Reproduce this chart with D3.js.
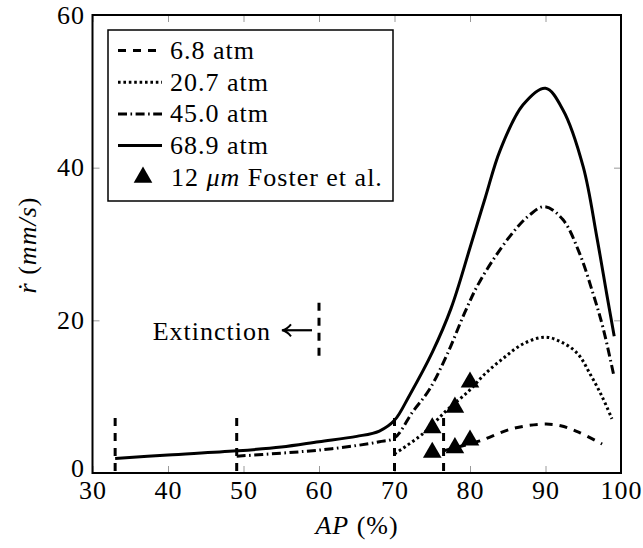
<!DOCTYPE html>
<html>
<head>
<meta charset="utf-8">
<script src="https://cdn.jsdelivr.net/npm/d3@7"></script>
<style>
  body { margin: 0; background: #fff; }
  svg { display: block; }
  text { font-family: "Liberation Serif", "DejaVu Serif", serif; fill: #000; letter-spacing: 1px; }
</style>
</head>
<body>
<svg id="chart" width="643" height="548"></svg>
<script>
// ---------- data ----------
const xTicks = [30, 40, 50, 60, 70, 80, 90, 100];
const yTicks = [0, 20, 40, 60];

const ap_6_8 = [76.5, 78, 81.3, 85.6, 89.7, 92, 94.5, 97.5];
const r_6_8  = [2.9, 3.3, 4.2, 5.8, 6.4, 6.2, 5.3, 3.8];

const ap_20_7 = [70, 73.7, 76.9, 79.9, 82, 84.5, 87, 89.9, 92, 94.2, 96, 97.5, 98.8];
const r_20_7  = [2.5, 5.1, 8.2, 10.8, 13.0, 15.1, 16.9, 17.8, 17.2, 15.7, 12.8, 10.0, 7.1];

const ap_45_0 = [49.1, 55, 60, 65, 68, 70, 72.4, 74.6, 77, 79.3, 81.3, 85.2, 87.9, 89.9, 92.3, 94.5, 96.3, 97.6, 99];
const r_45_0  = [2.2, 2.6, 3.0, 3.6, 4.1, 4.6, 8.0, 10.9, 15.6, 21.0, 25.1, 30.9, 33.8, 34.9, 33.2, 28.8, 23.5, 19.1, 13.0];

const ap_68_9 = [33, 40, 49.1, 55, 60, 65, 68, 70, 72, 75, 77.5, 80, 82, 84, 87, 90, 92.3, 95, 96.8, 98.1, 99.1];
const r_68_9  = [1.9, 2.35, 2.9, 3.4, 4.1, 4.8, 5.5, 6.9, 10.2, 15.8, 21.6, 29.5, 36.0, 42.3, 48.2, 50.4, 47.6, 40.1, 30.9, 23.5, 17.9];

const ap_foster = [75, 75, 78, 78, 80, 80];
const r_foster  = [2.7, 5.9, 3.3, 8.6, 4.3, 11.9];

// extinction limits (vertical dashed markers)
const ext_ap  = [33, 49.1, 70, 76.5];
const ext_top = [7.2, 7.2, 7.2, 7.2];
const extNote_ap = [60];
const extNote_lo = [15.1];
const extNote_hi = [22.3];

const seriesNames = ["6.8 atm", "20.7 atm", "45.0 atm", "68.9 atm"];

// ---------- layout ----------
const FS = 26;
const svg = d3.select("#chart");
const L = 92.5, R = 621, T = 15, B = 473;
const x = d3.scaleLinear().domain([30, 100]).range([L, R]);
const y = d3.scaleLinear().domain([0, 60]).range([B, T]);

const dashes = {
  "6.8 atm": "8,7",
  "20.7 atm": "2.6,2.8",
  "45.0 atm": "9,3.5,1.6,3.5",
  "68.9 atm": null
};

function styleAxis(g, labels) {
  g.select(".domain").remove();
  g.attr("font-family", null).attr("font-size", null);
  g.selectAll(".tick line").attr("stroke", "#9a9a9a").attr("stroke-width", 1);
  if (!labels) g.selectAll(".tick text").remove();
  else g.selectAll(".tick text").attr("font-size", FS);
}
svg.append("g").attr("transform", `translate(0,${B})`)
  .call(d3.axisBottom(x).tickValues(xTicks).tickSizeInner(-7).tickSizeOuter(0).tickPadding(7.5))
  .call(g => styleAxis(g, true));
svg.append("g").attr("transform", `translate(0,${T})`)
  .call(d3.axisTop(x).tickValues(xTicks).tickSizeInner(-7).tickSizeOuter(0))
  .call(g => styleAxis(g, false));
svg.append("g").attr("transform", `translate(${L},0)`)
  .call(d3.axisLeft(y).tickValues(yTicks).tickSizeInner(-7).tickSizeOuter(0).tickPadding(7.5))
  .call(g => styleAxis(g, true))
  .call(g => g.selectAll(".tick text").filter(d => d === 0).attr("dy", "0.12em"));
svg.append("g").attr("transform", `translate(${R},0)`)
  .call(d3.axisRight(y).tickValues(yTicks).tickSizeInner(-7).tickSizeOuter(0))
  .call(g => styleAxis(g, false));

// curves
const line = d3.line().x(d => x(d[0])).y(d => y(d[1])).curve(d3.curveCatmullRom.alpha(0.5));
const series = [
  { name: "6.8 atm", ap: ap_6_8, r: r_6_8 },
  { name: "20.7 atm", ap: ap_20_7, r: r_20_7 },
  { name: "45.0 atm", ap: ap_45_0, r: r_45_0 },
  { name: "68.9 atm", ap: ap_68_9, r: r_68_9 }
];
series.forEach(s => {
  svg.append("path")
    .datum(s.ap.map((a, i) => [a, s.r[i]]))
    .attr("d", line)
    .attr("fill", "none")
    .attr("stroke", "#000")
    .attr("stroke-width", 3)
    .attr("stroke-dasharray", dashes[s.name]);
});

// extinction markers
ext_ap.forEach((a, i) => {
  svg.append("line")
    .attr("x1", x(a)).attr("x2", x(a))
    .attr("y1", y(ext_top[i])).attr("y2", y(0))
    .attr("stroke", "#000").attr("stroke-width", 3)
    .attr("stroke-dasharray", "8,7");
});
extNote_ap.forEach((a, i) => {
  svg.append("line")
    .attr("x1", x(a)).attr("x2", x(a))
    .attr("y1", y(extNote_hi[i])).attr("y2", y(extNote_lo[i]))
    .attr("stroke", "#000").attr("stroke-width", 3)
    .attr("stroke-dasharray", "8,7");
  const ym = y((extNote_hi[i] + extNote_lo[i]) / 2);
  const xa = x(a) - 7;
  svg.append("line").attr("x1", xa).attr("x2", xa - 28).attr("y1", ym).attr("y2", ym)
    .attr("stroke", "#000").attr("stroke-width", 2.2);
  svg.append("path")
    .attr("d", `M${xa - 21},${ym - 6} Q${xa - 25},${ym - 1} ${xa - 30},${ym} Q${xa - 25},${ym + 1} ${xa - 21},${ym + 6}`)
    .attr("fill", "none").attr("stroke", "#000").attr("stroke-width", 2);
  svg.append("text").attr("x", xa - 41).attr("y", ym + 9.5)
    .attr("text-anchor", "end").attr("font-size", FS).text("Extinction");
});

// Foster points
const tri = d3.symbol().type(d3.symbolTriangle).size(150);
ap_foster.forEach((a, i) => {
  svg.append("path").attr("d", tri())
    .attr("transform", `translate(${x(a)},${y(r_foster[i])})`)
    .attr("fill", "#000");
});

// frame
svg.append("rect").attr("x", L).attr("y", T).attr("width", R - L).attr("height", B - T)
  .attr("fill", "none").attr("stroke", "#000").attr("stroke-width", 2);

// legend
const lg = svg.append("g");
lg.append("rect").attr("x", 108).attr("y", 30).attr("width", 285).attr("height", 171)
  .attr("fill", "#fff").attr("stroke", "#000").attr("stroke-width", 1.5);
const rowY = i => 50.5 + i * 31.7;
seriesNames.forEach((n, i) => {
  lg.append("line").attr("x1", 118).attr("x2", 162).attr("y1", rowY(i)).attr("y2", rowY(i))
    .attr("stroke", "#000").attr("stroke-width", 3).attr("stroke-dasharray", dashes[n]);
  lg.append("text").attr("x", 170).attr("y", rowY(i) + 8.5).attr("font-size", FS).text(n);
});
lg.append("path").attr("d", tri()).attr("transform", `translate(143,${rowY(4)})`).attr("fill", "#000");
const ft = lg.append("text").attr("x", 171).attr("y", rowY(4) + 8.5).attr("font-size", FS);
ft.append("tspan").text("12 ");
ft.append("tspan").attr("font-style", "italic").text("μm");
ft.append("tspan").text(" Foster et al.");

// axis labels
const xl = svg.append("text").attr("x", 357).attr("y", 534).attr("text-anchor", "middle").attr("font-size", FS);
xl.append("tspan").attr("font-style", "italic").text("AP");
xl.append("tspan").text(" (%)");
const yl = svg.append("text").attr("transform", "translate(36,245) rotate(-90)")
  .attr("text-anchor", "middle").attr("font-size", FS);
yl.append("tspan").attr("font-style", "italic").text("ṙ");
yl.append("tspan").text(" (");
yl.append("tspan").attr("font-style", "italic").text("mm/s");
yl.append("tspan").text(")");
</script>
</body>
</html>
